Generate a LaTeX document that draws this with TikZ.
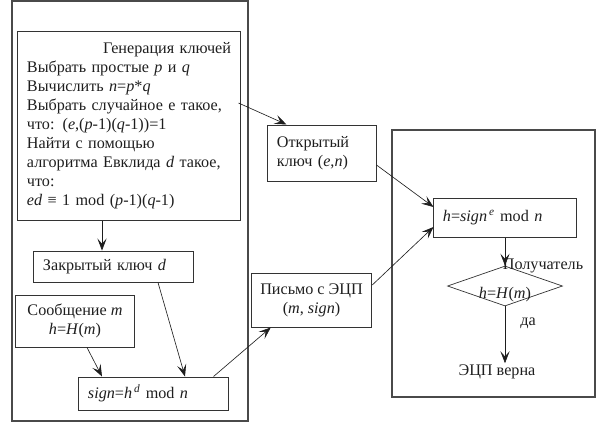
\documentclass[tikz,border=0pt]{standalone}
\usepackage{fontspec}
\setmainfont{Liberation Serif}
\usepackage{tikz}
\usetikzlibrary{arrows.meta,positioning,shapes.geometric,calc}
\definecolor{Ink}{HTML}{1E1E1E}
\definecolor{Edge}{HTML}{333333}
\definecolor{Frame}{HTML}{4A4A4A}

\begin{document}
\begin{tikzpicture}[x=0.025cm,y=-0.025cm,
  font=\fontsize{11.5pt}{13.5pt}\selectfont, text=Ink,
  box/.style={draw=Edge,line width=0.7pt,inner xsep=0.225cm,inner ysep=2pt},
  lbox/.style={box,align=left},
  cbox/.style={box,align=center},
  arr/.style={draw=Ink,line width=0.45pt,-{Stealth[length=3mm,width=2.3mm,inset=1.3mm]}},
  frame/.style={draw=Frame,line width=0.8pt}]
  \useasboundingbox (0,0) rectangle (600,437);
  % sender and receiver frames
  \draw[frame] (12,1) rectangle (248,421);
  \draw[frame] (392,130) rectangle (595,397);
  % sender side
  \node[lbox,text width=5.1cm,minimum height=4.7cm] (keygen) at (129,126)
  {\makebox[\linewidth][r]{Генерация ключей}\\
   Выбрать простые \textit{p} и \textit{q}\\
   Вычислить \textit{n}=\textit{p}*\textit{q}\\
   Выбрать случайное е такое,\\
   что: (\textit{e},(\textit{p}-1)(\textit{q}-1))=1\\
   Найти с помощью\\
   алгоритма Евклида \textit{d} такое,\\
   что:\\
   \textit{ed} ≡ 1 mod (\textit{p}-1)(\textit{q}-1)};
  \node[lbox,text width=3.525cm,minimum height=0.775cm] (privkey) at (113.5,266.5) {Закрытый ключ \textit{d}};
  \node[cbox,minimum width=2.95cm,minimum height=1.3cm] (msg) at (75,321) {Сообщение \textit{m}\\ \textit{h}=\textit{H}(\textit{m})};
  \node[lbox,text width=3.275cm,minimum height=0.825cm] (sign) at (153.5,393.5) {\textit{sign}=\textit{h}\textsuperscript{\,\textit{d}} mod \textit{n}};
  % channel
  \node[lbox,text width=2.25cm,minimum height=1.4cm] (pubkey) at (322,153) {Открытый\\ ключ (\textit{e},\textit{n})};
  \node[cbox,minimum width=2.825cm,minimum height=1.35cm] (letter) at (311.5,300) {Письмо с ЭЦП\\ (\textit{m}, \textit{sign})};
  % receiver side
  \node[lbox,text width=3.1cm,minimum height=0.975cm] (hbox) at (505,217.5) {\textit{h}=\textit{sign}\textsuperscript{\,\textit{e}} mod \textit{n}};
  \node[diamond,draw=Edge,line width=0.5pt,minimum width=2.875cm,minimum height=1cm,inner sep=0pt] (check) at (505,286) {};
  \node (cond) at (505,295) {\textit{h}=\textit{H}(\textit{m})};
  \node (recv) at (543,266) {Получатель};
  \node (yes) at (528,323) {да};
  \node[inner sep=1pt] (verdict) at (497,372) {ЭЦП верна};
  % connectors
  \draw[arr] ($(keygen.east)+(-2,-23)$) -- ($(pubkey.north west)+(19,0)$);
  \draw[arr] ($(keygen.south)+(-27,0)$) -- ($(privkey.north)+(-11.5,0)$);
  \draw[arr] ($(privkey.south)+(44.5,0)$) -- ($(sign.north)+(31.5,0)$);
  \draw[arr] ($(msg.south)+(12,0)$) -- ($(sign.north)+(-51.5,0)$);
  \draw[arr] ($(sign.north east)+(-15,0)$) -- ($(letter.south west)+(20,0)$);
  \draw[arr] ($(letter.east)+(0,-15)$) -- ($(hbox.west)+(0,9.5)$);
  \draw[arr] ($(pubkey.east)+(0,12)$) -- ($(hbox.west)+(0,-10.5)$);
  \draw[arr] (hbox.south) -- (check.north);
  \draw[arr] (check.south) -- (check.south |- verdict.north);
\end{tikzpicture}
\end{document}
